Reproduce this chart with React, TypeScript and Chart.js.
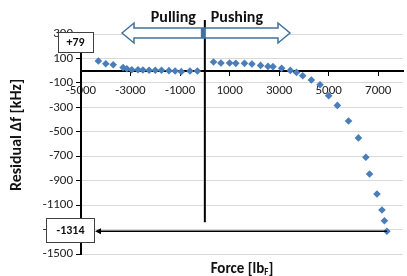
import React, { useEffect, useRef } from 'react';
import { Chart, registerables } from 'chart.js';

Chart.register(...registerables);

const forceValues = [
  -4300, -4000, -3700, -3300, -3150, -2950, -2700, -2500, -2250, -2000, -1750,
  -1450, -1200, -950, -600, -300, 350, 650, 1000, 1250, 1600, 1900, 2250, 2550,
  2750, 3100, 3450, 3700, 3950, 4300, 4650, 5000, 5350, 5800, 6200, 6500, 6650,
  6950, 7150, 7250, 7350,
];
const residualValues = [
  79, 57, 49, 25, 16, 8, 8, 5, 3, 3, 3, 0, -3, -8, -3, -3, 71, 63, 63, 60, 60,
  55, 43, 35, 33, 19, 2, -14, -41, -76, -115, -205, -284, -412, -550, -709,
  -845, -1009, -1140, -1228, -1314,
];
const xTickValues = [-5000, -3000, -1000, 1000, 3000, 5000, 7000];
const yTickValues = [-1500, -1300, -1100, -900, -700, -500, -300, -100, 100, 300];
const xMin = -5000;
const xMax = 8000;
const yMin = -1500;
const yMax = 300;
const xTitleMain = 'Force [lb';
const xTitleSub = 'F';
const xTitleEnd = ']';
const yTitle = 'Residual Δf [kHz]';
const pullLabel = 'Pulling';
const pushLabel = 'Pushing';
const peakLabel = '+79';
const minLabel = '-1314';
const minValue = -1314;
const lastForce = 7350;

const FONT = 'Carlito, Lato, "Open Sans", sans-serif';
const BLUE = '#4A7EBB';
const OUTLINE = '#41719C';

const annotations = {
  id: 'annotations',
  afterDraw(chart: any) {
    const ctx = chart.ctx;
    const xs = chart.scales.x;
    const ys = chart.scales.y;
    const area = chart.chartArea;
    const x0 = xs.getPixelForValue(0);
    const yLow = ys.getPixelForValue(minValue);
    const cy = ys.getPixelForValue(yMax) - 1;

    ctx.save();
    // divider line
    ctx.strokeStyle = '#000';
    ctx.lineWidth = 2;
    ctx.beginPath();
    ctx.moveTo(x0, 20);
    ctx.lineTo(x0, yLow - 9);
    ctx.stroke();

    // double arrow
    const lt = 122, rt = 290, hl = 12, hh = 10, sh = 5;
    ctx.beginPath();
    ctx.moveTo(lt, cy);
    ctx.lineTo(lt + hl, cy - hh);
    ctx.lineTo(lt + hl, cy - sh);
    ctx.lineTo(rt - hl, cy - sh);
    ctx.lineTo(rt - hl, cy - hh);
    ctx.lineTo(rt, cy);
    ctx.lineTo(rt - hl, cy + hh);
    ctx.lineTo(rt - hl, cy + sh);
    ctx.lineTo(lt + hl, cy + sh);
    ctx.lineTo(lt + hl, cy + hh);
    ctx.closePath();
    ctx.fillStyle = '#fff';
    ctx.fill();
    ctx.strokeStyle = OUTLINE;
    ctx.lineWidth = 1.5;
    ctx.stroke();
    ctx.fillStyle = OUTLINE;
    ctx.fillRect(x0 - 4, cy - sh, 5, sh * 2);

    // Pulling / Pushing
    ctx.fillStyle = '#111';
    ctx.font = 'bold 16px ' + FONT;
    ctx.textBaseline = 'middle';
    ctx.textAlign = 'right';
    ctx.fillText(pullLabel, x0 - 9, 18);
    ctx.textAlign = 'left';
    ctx.fillText(pushLabel, x0 + 6, 18);

    // +79 box
    ctx.fillStyle = '#fff';
    ctx.fillRect(58, 32, 35, 20);
    ctx.strokeStyle = '#404040';
    ctx.lineWidth = 1;
    ctx.strokeRect(58.5, 32.5, 35, 20);
    ctx.fillStyle = '#111';
    ctx.font = 'bold 12px ' + FONT;
    ctx.textAlign = 'center';
    ctx.fillText(peakLabel, 75.5, 43);

    // -1314 arrow
    const xEnd = xs.getPixelForValue(lastForce);
    ctx.strokeStyle = '#000';
    ctx.lineWidth = 1.5;
    ctx.beginPath();
    ctx.moveTo(xEnd, yLow);
    ctx.lineTo(99, yLow);
    ctx.stroke();
    ctx.fillStyle = '#000';
    ctx.beginPath();
    ctx.moveTo(95, yLow);
    ctx.lineTo(101, yLow - 3);
    ctx.lineTo(101, yLow + 3);
    ctx.closePath();
    ctx.fill();

    // -1314 box
    ctx.fillStyle = '#fff';
    ctx.fillRect(46, yLow - 13, 48, 24);
    ctx.strokeStyle = '#404040';
    ctx.lineWidth = 1;
    ctx.strokeRect(46.5, Math.round(yLow - 13) + 0.5, 48, 24);
    ctx.fillStyle = '#111';
    ctx.font = 'bold 12px ' + FONT;
    ctx.textAlign = 'center';
    ctx.fillText(minLabel, 70.5, yLow);

    // y title
    ctx.save();
    ctx.translate(17, 135);
    ctx.rotate(-Math.PI / 2);
    ctx.font = 'bold 16px ' + FONT;
    ctx.textAlign = 'center';
    ctx.textBaseline = 'middle';
    ctx.fillStyle = '#111';
    ctx.fillText(yTitle, 0, 0);
    ctx.restore();

    // x title with subscript
    ctx.font = 'bold 15px ' + FONT;
    const w1 = ctx.measureText(xTitleMain).width;
    const w3 = ctx.measureText(xTitleEnd).width;
    ctx.font = 'bold 9px ' + FONT;
    const w2 = ctx.measureText(xTitleSub).width;
    const total = w1 + w2 + w3;
    let tx = (area.left + area.right) / 2 - total / 2;
    const ty = 273;
    ctx.textAlign = 'left';
    ctx.textBaseline = 'alphabetic';
    ctx.fillStyle = '#111';
    ctx.font = 'bold 15px ' + FONT;
    ctx.fillText(xTitleMain, tx, ty);
    tx += w1;
    ctx.font = 'bold 9px ' + FONT;
    ctx.fillText(xTitleSub, tx, ty + 2);
    tx += w2;
    ctx.font = 'bold 15px ' + FONT;
    ctx.fillText(xTitleEnd, tx, ty);
    ctx.restore();
  },
};

export default function App() {
  const ref = useRef<HTMLCanvasElement>(null);
  useEffect(() => {
    if (!ref.current) return;
    const chart = new Chart(ref.current, {
      type: 'scatter',
      data: {
        datasets: [
          {
            data: forceValues.map((f, i) => ({ x: f, y: residualValues[i] })),
            pointStyle: 'rectRot',
            pointRadius: 3.8,
            backgroundColor: BLUE,
            borderColor: BLUE,
            borderWidth: 0,
          },
        ],
      },
      options: {
        responsive: false,
        animation: false,
        layout: { padding: { top: 34, bottom: 22, left: 0, right: 0 } },
        plugins: { legend: { display: false }, tooltip: { enabled: false } },
        scales: {
          x: {
            type: 'linear',
            min: xMin,
            max: xMax,
            position: { y: 0 } as any,
            afterBuildTicks: (s: any) => {
              s.ticks = xTickValues.map((v) => ({ value: v }));
            },
            ticks: {
              color: '#222',
              font: { size: 13, family: FONT },
              padding: 8,
              maxRotation: 0,
              autoSkip: false,
              callback: (v: any) => String(v),
            },
            grid: {
              drawOnChartArea: false,
              drawTicks: true,
              tickLength: 4,
              tickColor: '#000',
            },
            border: { color: '#000', width: 2 },
          },
          y: {
            type: 'linear',
            min: yMin,
            max: yMax,
            afterBuildTicks: (s: any) => {
              s.ticks = yTickValues.map((v) => ({ value: v }));
            },
            afterFit: (s: any) => {
              s.width = 81;
            },
            ticks: {
              color: '#222',
              font: { size: 13, family: FONT },
              padding: 3,
              autoSkip: false,
              callback: (v: any) => String(v),
            },
            grid: {
              color: '#d9d9d9',
              lineWidth: 1,
              tickLength: 5,
              tickColor: '#000',
            },
            border: { color: '#000', width: 2 },
          },
        },
      },
      plugins: [annotations],
    });
    return () => chart.destroy();
  }, []);
  return (
    <div style={{ position: 'fixed', left: 0, top: 0, width: 407, height: 276, background: '#fff' }}>
      <canvas ref={ref} width={407} height={276} />
    </div>
  );
}
